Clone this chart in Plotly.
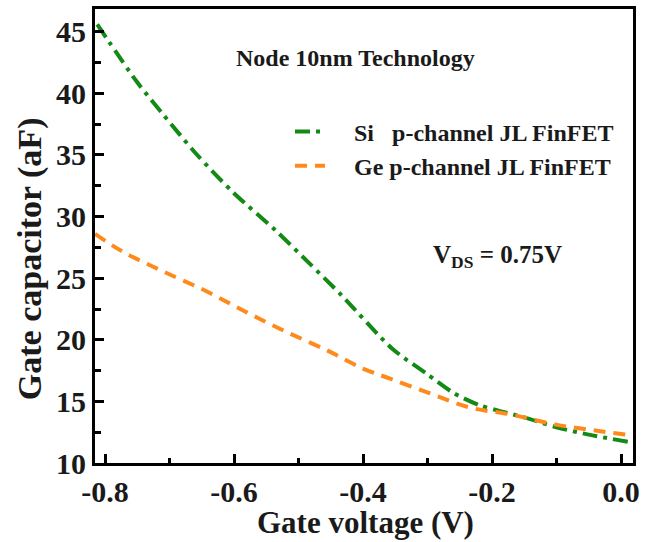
import plotly.graph_objects as go

# ---- data ----
gate_v_si = [-0.812, -0.75, -0.71, -0.657, -0.60, -0.536, -0.485, -0.433, -0.355,
             -0.30, -0.26, -0.22, -0.19, -0.15, -0.10, -0.05, 0.014]
cap_si = [45.6, 40.9, 38.3, 35.0, 31.9, 28.9, 26.3, 23.6, 19.3,
          17.2, 15.7, 14.7, 14.25, 13.7, 12.9, 12.3, 11.7]

gate_v_ge = [-0.8155, -0.774, -0.712, -0.645, -0.583, -0.521, -0.454, -0.40, -0.358,
             -0.296, -0.234, -0.167, -0.105, -0.043, 0.014]
cap_ge = [28.6, 27.2, 25.6, 24.0, 22.3, 20.7, 19.1, 17.66, 16.85,
          15.65, 14.5, 13.9, 13.15, 12.66, 12.26]

x_tick_vals = [-0.8, -0.6, -0.4, -0.2, 0.0]
x_tick_text = ["-0.8", "-0.6", "-0.4", "-0.2", "0.0"]
y_tick_vals = [10, 15, 20, 25, 30, 35, 40, 45]

PAD = "\u00a0" * 4
name_si = PAD + "Si\u00a0\u00a0\u00a0p-channel JL FinFET"
name_ge = PAD + "Ge p-channel JL FinFET"

FONT = "Liberation Serif"
GREEN = "#138a13"
ORANGE = "#ff8a1c"
TEXT = "#1a1a1a"

fig = go.Figure()
fig.add_trace(go.Scatter(
    x=gate_v_si, y=cap_si, mode="lines", name=name_si,
    line=dict(color=GREEN, width=4, dash="15px,6px,4px,6px", shape="spline", smoothing=0.8),
))
fig.add_trace(go.Scatter(
    x=gate_v_ge, y=cap_ge, mode="lines", name=name_ge,
    line=dict(color=ORANGE, width=4, dash="12px,8px", shape="spline"),
))

axis_common = dict(
    showline=True, linecolor="black", linewidth=3, mirror=True,
    ticks="inside", tickcolor="black", tickwidth=3, ticklen=9,
    showgrid=False, zeroline=False,
    tickfont=dict(family=FONT, size=30, color=TEXT, weight="bold"),
)

fig.update_xaxes(
    range=[-0.8155, 0.0186], tickvals=x_tick_vals, ticktext=x_tick_text,
    minor=dict(ticks="inside", dtick=0.1, tick0=0, ticklen=5, tickwidth=3, tickcolor="black"),
    **axis_common,
)
fig.update_yaxes(
    range=[10, 46.85], tickvals=y_tick_vals,
    minor=dict(ticks="inside", dtick=2.5, tick0=0, ticklen=6, tickwidth=3, tickcolor="black"),
    **axis_common,
)

fig.update_layout(
    width=650, height=542,
    margin=dict(l=95, r=17, t=6, b=79),
    paper_bgcolor="white", plot_bgcolor="white",
    showlegend=True,
    legend=dict(
        x=0.3625, y=0.779, xanchor="left", yanchor="top",
        bgcolor="rgba(0,0,0,0)",
        font=dict(family=FONT, size=24, color=TEXT, weight="bold"),
        itemwidth=30,
    ),
    annotations=[
        dict(text="Node 10nm Technology", x=0.485, y=0.893, xref="paper", yref="paper",
             xanchor="center", yanchor="middle", showarrow=False,
             font=dict(family=FONT, size=24, color=TEXT, weight="bold")),
        dict(text="V<sub>DS</sub> = 0.75V", x=0.748, y=0.455, xref="paper", yref="paper",
             xanchor="center", yanchor="middle", showarrow=False,
             font=dict(family=FONT, size=25, color=TEXT, weight="bold")),
        dict(text="Gate capacitor (aF)", x=-0.121, y=0.451, xref="paper", yref="paper",
             xanchor="center", yanchor="middle", showarrow=False, textangle=-90,
             font=dict(family=FONT, size=34, color=TEXT, weight="bold")),
        dict(text="Gate voltage (V)", x=0.502, y=-0.131, xref="paper", yref="paper",
             xanchor="center", yanchor="middle", showarrow=False,
             font=dict(family=FONT, size=31, color=TEXT, weight="bold")),
    ],
)

fig.write_html("out.html")
